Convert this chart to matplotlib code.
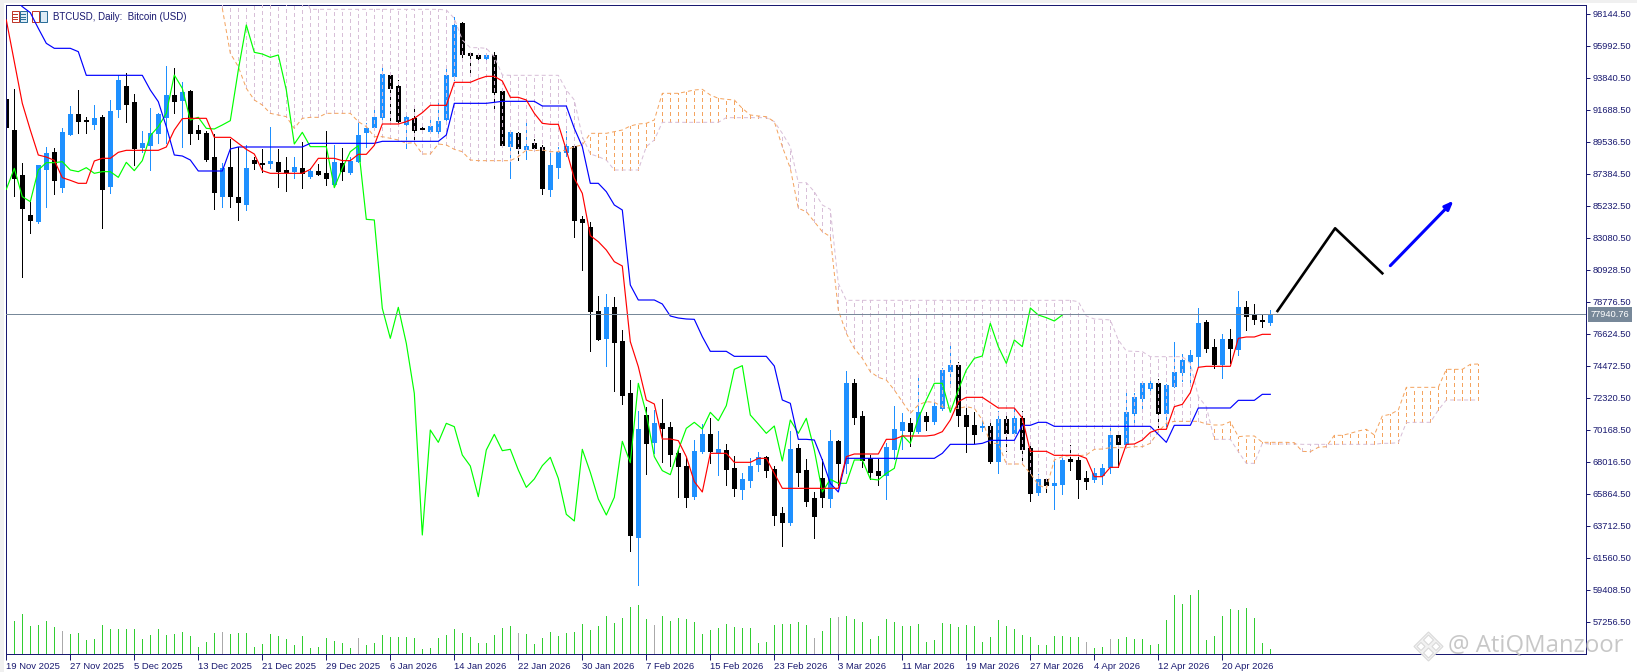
import numpy as np
import matplotlib
matplotlib.use('Agg')
import matplotlib.pyplot as plt
from matplotlib.patches import Rectangle, Polygon
from matplotlib.lines import Line2D

plt.rcParams['font.family'] = ['Liberation Sans', 'DejaVu Sans']

symbol_text = 'BTCUSD, Daily:  Bitcoin (USD)'
last_price = 77940.76

date_labels = ['19 Nov 2025', '27 Nov 2025', '5 Dec 2025', '13 Dec 2025', '21 Dec 2025',
               '29 Dec 2025', '6 Jan 2026', '14 Jan 2026', '22 Jan 2026', '30 Jan 2026',
               '7 Feb 2026', '15 Feb 2026', '23 Feb 2026', '3 Mar 2026', '11 Mar 2026',
               '19 Mar 2026', '27 Mar 2026', '4 Apr 2026', '12 Apr 2026', '20 Apr 2026']

price_ticks = [98144.5, 95992.5, 93840.5, 91688.5, 89536.5, 87384.5, 85232.5, 83080.5, 80928.5,
               78776.5, 76624.5, 74472.5, 72320.5, 70168.5, 68016.5, 65864.5, 63712.5, 61560.5,
               59408.5, 57256.5]

# daily candles
opens = [92428, 90343, 87317, 84627, 84224, 87721, 88864, 86532, 90074, 91419,
         91016, 90747, 91218, 86600, 91778, 93302, 92226, 89200, 89357, 90142,
         91240, 92697, 92361, 92966, 90343, 90142, 88528, 85927, 87855, 85838,
         85389, 88326, 88124, 88124, 88191, 87653, 87586, 87788, 87272, 87586,
         87452, 86689, 88124, 87519, 88259, 90209, 90545, 91240, 94042, 93302,
         90769, 91128, 90478, 90276, 90299, 91106, 93997, 97539, 95544, 95387,
         95185, 95387, 92944, 89290, 90142, 89088, 89469, 89178, 86398, 87877,
         88864, 89267, 84358, 83820, 78171, 76355, 78440, 76154, 72657, 62972,
         71177, 69361, 70617, 70370, 68622, 67747, 65730, 68756, 69899, 68689,
         68823, 67613, 66201, 66806, 67882, 68353, 67546, 64587, 63981, 68958,
         67478, 65595, 66940, 65595, 69429, 67949, 73329, 71110, 68285, 67411,
         67142, 68891, 70168, 70639, 70101, 71110, 70773, 71648, 74136, 74540,
         71177, 70505, 70348, 70437, 68084, 70908, 69967, 70975, 68958, 65999,
         66873, 66470, 66537, 68218, 68151, 66940, 66873, 67142, 67680, 69832,
         69227, 71312, 72320, 72993, 73329, 71312, 73127, 74069, 74809, 75145,
         77431, 75750, 74607, 76288, 75616, 78440, 77902, 77566, 77431]
highs = [92428, 93101, 88102, 85524, 87990, 89178, 89110, 90455, 91957, 93033,
         91240, 92025, 91352, 92361, 94020, 94154, 92764, 90299, 91845, 91464,
         94647, 94513, 93594, 93033, 90680, 90276, 90074, 88102, 89716, 89223,
         89335, 88550, 89043, 90545, 89043, 88550, 88528, 89514, 87765, 88057,
         90276, 89335, 89110, 88550, 90881, 90792, 91756, 94670, 94221, 93706,
         91352, 91756, 90680, 91083, 92182, 94491, 97965, 97606, 95567, 95544,
         95499, 95567, 92988, 90231, 90209, 90971, 89716, 89312, 88774, 89223,
         90276, 89335, 84560, 84156, 79180, 79315, 79113, 76893, 73531, 71446,
         71738, 71513, 72253, 70706, 68823, 68263, 69496, 70572, 70975, 70101,
         69227, 68397, 67277, 68285, 68689, 68420, 67747, 64990, 70101, 69227,
         68218, 65999, 68218, 70168, 69496, 74136, 73598, 71446, 68487, 68218,
         69272, 71782, 71312, 70975, 73934, 71379, 72051, 74338, 75952, 74741,
         71648, 71379, 71020, 70841, 71446, 71379, 71850, 71446, 69160, 67209,
         66873, 68151, 68285, 69160, 68599, 67411, 67613, 67882, 70393, 69832,
         72858, 72634, 73329, 73665, 73598, 73262, 76086, 75279, 75548, 78373,
         77566, 76288, 76624, 76961, 79516, 78844, 78642, 77902, 78238]
lows = [90568, 85927, 80480, 83394, 84111, 85187, 86062, 86196, 90007, 90164,
        90164, 90411, 83775, 86129, 91195, 90904, 87990, 88886, 87676, 89447,
        89447, 91509, 89223, 89424, 89761, 88281, 85053, 85187, 85187, 84313,
        84986, 87743, 87541, 87810, 86532, 86263, 87138, 86465, 87138, 87317,
        86667, 86577, 86981, 87362, 88169, 89200, 90411, 91061, 91016, 90680,
        89155, 89559, 90231, 90209, 89940, 90836, 93706, 95096, 94154, 94872,
        94872, 91800, 89267, 87138, 88326, 88393, 89110, 86039, 85905, 87138,
        88595, 83148, 80928, 75504, 76221, 74472, 72791, 71917, 62031, 59750,
        67209, 68644, 68039, 67747, 65685, 64990, 65528, 68622, 67971, 67142,
        66470, 65730, 65528, 66335, 67411, 67008, 63780, 62367, 63780, 66402,
        65057, 62905, 64990, 64990, 66470, 67277, 70572, 67680, 66873, 66470,
        65528, 68218, 68891, 69092, 69967, 70168, 70572, 71513, 73262, 70437,
        68689, 69294, 70124, 67949, 67277, 68756, 69944, 67927, 65394, 65797,
        65999, 64856, 65887, 67478, 65595, 66201, 66671, 66537, 67277, 67702,
        69137, 70437, 71513, 72634, 70393, 70437, 73083, 73464, 73195, 74428,
        75414, 74338, 73665, 74652, 75212, 76893, 77297, 77095, 77230]
closes = [90568, 87138, 85120, 84291, 87990, 88774, 86981, 90209, 91419, 90971,
          90949, 91150, 86398, 91621, 93706, 92114, 89155, 89469, 90142, 91419,
          92697, 92316, 92899, 90164, 90142, 88416, 86196, 87810, 85927, 85524,
          87788, 88146, 88079, 88259, 87608, 87541, 87855, 87429, 87608, 87384,
          87138, 88214, 87608, 88236, 90007, 90478, 91218, 94109, 93190, 90971,
          91218, 90366, 90433, 90612, 90949, 94042, 97405, 95477, 95410, 95185,
          95387, 92921, 89335, 90209, 89155, 89267, 89155, 86443, 87990, 88864,
          89267, 84313, 84179, 78194, 76288, 78440, 76086, 72522, 63107, 70236,
          69294, 70639, 70303, 68554, 67747, 65685, 68756, 69899, 68756, 68891,
          67546, 66290, 66873, 67747, 68353, 67478, 64452, 63981, 68891, 67344,
          65394, 64385, 65663, 69429, 67949, 73329, 71043, 68151, 67344, 67142,
          69025, 70236, 70706, 70101, 71379, 70773, 71782, 74203, 74540, 71177,
          70437, 69899, 70437, 68084, 70908, 69967, 70975, 68891, 65932, 66873,
          66470, 66604, 68151, 68084, 66873, 66739, 67277, 67613, 69832, 69227,
          71379, 72388, 73329, 73329, 71312, 73195, 74069, 74876, 75212, 77364,
          75683, 74607, 76288, 75683, 78440, 77835, 77633, 77476, 77941]

# tick volume (arbitrary units), gray bars listed apart
volumes = [0, 99, 120, 84, 87, 99, 81, 69, 60, 63,
           42, 45, 87, 75, 75, 75, 75, 45, 57, 75,
           57, 60, 66, 54, 21, 36, 63, 66, 60, 63,
           63, 21, 30, 60, 54, 45, 27, 54, 18, 21,
           48, 39, 33, 18, 48, 27, 33, 57, 51, 51,
           51, 48, 15, 18, 48, 57, 75, 63, 51, 33,
           33, 57, 78, 84, 63, 60, 30, 48, 66, 54,
           63, 66, 90, 72, 84, 114, 93, 108, 141, 147,
           105, 87, 114, 99, 108, 105, 96, 60, 72, 78,
           90, 81, 78, 78, 33, 36, 87, 90, 90, 96,
           87, 48, 69, 108, 111, 114, 105, 96, 45, 54,
           105, 96, 84, 84, 90, 36, 42, 93, 90, 81,
           87, 84, 36, 51, 102, 84, 75, 57, 51, 27,
           27, 54, 54, 51, 51, 36, 18, 21, 45, 45,
           51, 45, 45, 27, 30, 102, 177, 150, 177, 192,
           42, 54, 114, 135, 132, 138, 108, 33, 15]
gray_volume_days = [7, 27, 44, 64, 81, 101, 104, 135, 138]

# ichimoku lines
tenkan = [97741, 94939, 92137, 90343, 88662, 88527, 88303, 87138, 86958, 86757,
          86757, 88259, 88438, 88438, 88841, 88976, 88976, 88976, 88976, 88976,
          89200, 90343, 91106, 91128, 91128, 91128, 89850, 89850, 89850, 89447,
          89043, 88729, 87608, 87429, 87429, 87429, 87429, 87429, 87698, 88438,
          88438, 88438, 88281, 88281, 88707, 88707, 89312, 90747, 90747, 90747,
          90904, 91128, 91509, 92002, 92002, 92002, 93549, 93549, 93549, 93773,
          93952, 93952, 93639, 92540, 92540, 92361, 91464, 90792, 90725, 90725,
          88998, 87093, 86084, 83237, 82834, 82273, 81488, 81197, 76109, 74428,
          72186, 71917, 69563, 69563, 69451, 68375, 66694, 65999, 68599, 68599,
          68599, 67994, 67994, 67994, 68263, 68263, 67254, 66245, 66245, 66245,
          66245, 66245, 66245, 66245, 66245, 68375, 68554, 68554, 68554, 68554,
          69541, 69541, 69765, 69765, 69765, 69765, 69832, 70056, 70841, 72074,
          72365, 72365, 72365, 72007, 71648, 71648, 71648, 70975, 68734, 68734,
          68734, 68465, 68465, 68465, 68465, 68263, 67030, 67030, 67658, 67658,
          69204, 69227, 69496, 70011, 70213, 70213, 71737, 71894, 72679, 74383,
          74450, 74450, 74450, 74450, 76333, 76423, 76423, 76602, 76602]
kijun = [99758, 99198, 98638, 98234, 97181, 96172, 95836, 95836, 95836, 95611,
         94020, 94020, 94020, 94020, 94020, 94020, 94020, 94020, 93033, 92249,
         90568, 88662, 88595, 88326, 87586, 87586, 87586, 87586, 89066, 89200,
         89200, 89200, 89200, 89200, 89200, 89200, 89200, 89200, 89447, 89447,
         89447, 89447, 89447, 89447, 89447, 89447, 89447, 89581, 89581, 89581,
         89581, 89581, 89581, 89581, 89581, 90007, 92137, 92137, 92137, 92137,
         92137, 92204, 92271, 92271, 92271, 92271, 92271, 91957, 91957, 91957,
         91957, 90455, 89223, 86757, 86757, 86196, 85300, 84963, 79920, 78911,
         78911, 78911, 78642, 77835, 77700, 77633, 77611, 76445, 75459, 75459,
         75459, 75122, 75122, 75122, 75122, 75122, 74472, 72186, 71962, 69541,
         69541, 69496, 68151, 66582, 65999, 68263, 68263, 68263, 68263, 68263,
         68263, 68263, 68263, 68263, 68263, 68263, 68263, 68599, 69204, 69204,
         69204, 69204, 69272, 69473, 69473, 69473, 69473, 70482, 70482, 70684,
         70684, 70415, 70415, 70415, 70415, 70415, 70415, 70415, 70415, 70415,
         70415, 70415, 70415, 70415, 69877, 69339, 70482, 70482, 70482, 71648,
         71648, 71648, 71648, 71648, 72163, 72163, 72163, 72567, 72567]
chikou = [86353, 87765, 85860, 85524, 87653, 88146, 88146, 88214, 87653, 87541,
          87810, 87429, 87541, 87541, 87160, 88169, 87608, 88281, 89962, 90568,
          91464, 94042, 93146, 91016, 91195, 90455, 90411, 90680, 90971, 94378,
          97405, 95567, 95454, 95230, 95387, 93033, 89402, 90186, 89223, 89223,
          89223, 86465, 87765, 88886, 89290, 84336, 84291, 78351, 76333, 78418,
          75997, 72634, 63107, 70168, 69339, 70617, 70392, 68487, 67747, 65685,
          68823, 69877, 68778, 68868, 67478, 66312, 66873, 67769, 68330, 66918,
          64497, 64048, 68868, 67321, 65528, 64452, 65640, 69406, 67971, 73307,
          71289, 68375, 67434, 67164, 68823, 70280, 70684, 70236, 71356, 70796,
          71805, 74248, 74495, 71177, 70572, 69944, 70437, 68084, 70841, 69944,
          70953, 68823, 65999, 66850, 66582, 66582, 68151, 68151, 66873, 66806,
          67254, 67590, 69832, 69272, 70953, 72186, 73307, 73307, 71356, 72858,
          74203, 74988, 75145, 77342, 75773, 74652, 76221, 75773, 78373, 77902,
          77723, 77499, 77902]

# cloud, first value belongs to day 27
cloud_start = 27
senkou_a = [98526, 95499, 94603,
            93146, 92361, 92025, 91464, 91352, 91240, 90455, 91128, 91195, 91195,
            91464, 91464, 91464, 91464, 90904, 90568, 89895, 89895, 89783, 89671,
            89447, 89492, 88729, 88729, 89402, 89335, 89043, 88886, 88326, 88281,
            88281, 88281, 88281, 88281, 88550, 88998, 88953, 88998, 88886, 88886,
            88998, 89223, 89335, 90119, 90119, 90119, 90231, 90343, 90612, 90747,
            90792, 91016, 92809, 92809, 92809, 92921, 93033, 93078, 92697, 92473,
            92406, 92361, 91800, 91352, 91285, 91240, 90904, 89223, 87765, 85075,
            84851, 84179, 83506, 83170, 78238, 76669, 75660, 74988, 74091, 73710,
            73531, 72858, 72074, 71289, 71850, 72074, 72029, 71737, 71625, 71625,
            71737, 71625, 70841, 69272, 69272, 67882, 67882, 67882, 67254, 66470,
            66245, 68151, 68375, 68442, 68442, 68487, 68868, 68890, 68980, 68980,
            68980, 69047, 69047, 69272, 70056, 70617, 70751, 70751, 70751, 70751,
            70572, 70505, 70505, 70729, 69720, 69765, 69765, 69339, 69339, 69339,
            69339, 69316, 68730, 68711, 69003, 69047, 69809, 69809, 69944, 70101,
            70213, 69832, 71110, 71222, 71513, 73037, 73037, 73037, 73037, 73037,
            74248, 74248, 74248, 74585, 74607]
senkou_b = [99700, 99700, 99700,
            99700, 99700, 99700, 99700, 99700, 99700, 99700, 99700, 98458, 98458,
            98458, 98458, 98458, 98458, 98458, 98458, 98458, 98458, 98458, 98458,
            98458, 98458, 98458, 98458, 98458, 98413, 97853, 96396, 95880, 95880,
            95835, 95275, 94042, 94020, 94020, 94020, 94020, 94020, 94020, 94020,
            93033, 92361, 89895, 88729, 88550, 88326, 87653, 87653, 87653, 87653,
            89222, 89671, 90859, 90859, 90859, 90859, 90859, 90859, 90859, 90859,
            91173, 91173, 91173, 91173, 91173, 91173, 90904, 90119, 89222, 86801,
            86801, 86196, 85300, 85008, 80032, 78888, 78888, 78888, 78888, 78888,
            78888, 78888, 78888, 78888, 78888, 78888, 78888, 78888, 78888, 78888,
            78888, 78888, 78888, 78888, 78888, 78888, 78888, 78888, 78888, 78888,
            78888, 78888, 78888, 78888, 78799, 77835, 77633, 77611, 77566, 76221,
            75481, 75459, 75436, 75100, 75100, 75100, 75100, 75100, 74652, 72410,
            71737, 69541, 69541, 69541, 68711, 67927, 67927, 69272, 69227, 69227,
            69227, 69227, 69204, 69204, 69204, 69204, 69204, 69204, 69204, 69204,
            69204, 69204, 69272, 69272, 69316, 70661, 70684, 70684, 70684, 71513,
            72186, 72186, 72186, 72186, 72186]

# hand drawn projection
zigzag_day = [158.9, 166.1, 172.0]
zigzag_price = [78171, 83733, 80706]
arrow_day = [173.0, 180.9]
arrow_price = [81218, 85589]

W, H = 1637, 672
NAVY = '#191970'
LINE = 0.72  # one pixel at dpi 100


def fx(px):
    return px / W


def fy(px):
    return 1 - px / H


fig = plt.figure(figsize=(W / 100, H / 100), dpi=100, facecolor='white')
ax = fig.add_axes([fx(6.3), fy(654), fx(1586 - 6.3), (654 - 5.3) / H], zorder=2)
ax_vol = fig.add_axes(ax.get_position(), sharex=ax, zorder=1)
ax_vol.axis('off')
ax.patch.set_alpha(0)

days = np.arange(len(closes))
o, h, l, c = map(np.array, (opens, highs, lows, closes))
up = c >= o
BLUE = '#1E90FF'
colors = np.where(up, BLUE, 'black')

# volume
vol_colors = ['#aaaaaa' if d in gray_volume_days else '#32CD32' for d in days]
ax_vol.vlines(days, 0, volumes, colors=vol_colors, linewidth=LINE, antialiased=False)
ax_vol.set_ylim(0, 1946)

# candles
ax.vlines(days, l, h, colors=colors, linewidth=LINE, antialiased=False, zorder=2)
ax.bar(days, np.abs(c - o), bottom=np.minimum(o, c), width=0.52, color=colors,
       edgecolor=colors, linewidth=LINE, antialiased=False, zorder=2)

# cloud
cloud_days = np.arange(cloud_start, cloud_start + len(senkou_a))
a = np.array(senkou_a)
b = np.array(senkou_b)
ORANGE = '#F4A460'
THISTLE = '#D8BFD8'
DASH = (0, (4, 3))
hatch = np.where(a > b, ORANGE, THISTLE)
ax.vlines(cloud_days, np.minimum(a, b), np.maximum(a, b), colors=hatch, linewidth=LINE,
          linestyles=DASH, antialiased=False, zorder=3)
ax.plot(cloud_days, b, color=THISTLE, linewidth=LINE, dashes=DASH[1], zorder=3)
ax.plot(cloud_days, a, color=ORANGE, linewidth=LINE, dashes=DASH[1], zorder=3)

# ichimoku lines
ax.plot(days[:len(chikou)], chikou, color='#00FF00', linewidth=0.85, zorder=4)
ax.plot(days, kijun, color='#0000FF', linewidth=0.85, zorder=4)
ax.plot(days, tenkan, color='#FF0000', linewidth=0.85, zorder=4)

# last price line
ax.axhline(last_price, color='#778899', linewidth=LINE, zorder=5)

# projection
ax.plot(zigzag_day, zigzag_price, color='black', linewidth=1.9, zorder=6)
ax.annotate('', xy=(arrow_day[1], arrow_price[1]), xytext=(arrow_day[0], arrow_price[0]),
            arrowprops=dict(arrowstyle='-|>,head_length=0.5,head_width=0.2', color='#0000FF',
                            linewidth=2.2, shrinkA=0, shrinkB=0), zorder=6)

# axes
ax.set_xlim(0, 197.46)
ax.set_ylim(55104, 98729)
for s in ax.spines.values():
    s.set_color(NAVY)
    s.set_linewidth(LINE)
ax.yaxis.tick_right()
ax.set_yticks(price_ticks)
ax.set_yticklabels([f'{v:.2f}' for v in price_ticks])
ax.set_xticks(np.arange(len(date_labels)) * 8)
ax.set_xticklabels(date_labels, ha='left')
ax.tick_params(axis='y', colors=NAVY, length=3, width=LINE, labelsize=6.7, pad=2)
ax.tick_params(axis='x', colors=NAVY, length=4, width=LINE, labelsize=6.8, pad=1.5)

# label of the last price
ax.text(1.003, last_price, f'{last_price:.2f}', transform=ax.get_yaxis_transform(), color='white',
        fontsize=6.7, va='center', ha='left', zorder=10, clip_on=False,
        bbox=dict(facecolor='#778899', edgecolor='none', pad=2))

# header
fig.text(fx(53), fy(16.5), symbol_text, color=NAVY, fontsize=7.0, va='center', ha='left', zorder=12)

# toolbar icons of the terminal
for x0 in (11.5, 32):
    fig.add_artist(Rectangle((fx(x0), fy(22)), 7 / W, 11 / H, transform=fig.transFigure,
                             facecolor='white', edgecolor='#C0392B', linewidth=LINE))
    fig.add_artist(Rectangle((fx(x0 + 8), fy(22)), 7 / W, 11 / H, transform=fig.transFigure,
                             facecolor='#DCEBF5', edgecolor='#2B6E99', linewidth=LINE))
for dy in (14, 16.5, 19):
    for x0, col in ((13, '#C0392B'), (21, '#2B6E99')):
        fig.add_artist(Line2D([fx(x0), fx(x0 + 4)], [fy(dy), fy(dy)], transform=fig.transFigure,
                              color=col, linewidth=LINE))

# grey window edge
fig.add_artist(Rectangle((0, fy(3)), 1, 3 / H, transform=fig.transFigure, facecolor='#F0F0F0',
                         edgecolor='none'))
fig.add_artist(Rectangle((0, 0), 4 / W, 1, transform=fig.transFigure, facecolor='#F0F0F0',
                         edgecolor='none'))

# watermark
fig.text(fx(1448), fy(646), '@ AtiQManzoor', color='#BEBEBE', alpha=0.85, fontsize=17.2, va='center',
         ha='left', family=['Open Sans', 'DejaVu Sans'], zorder=12)
for cx, cy, r, fc in ((1428.5, 646.5, 14.5, '#F1F1F1'), (1428.5, 640, 5, 'white'),
                      (1421, 646.5, 4, 'white'), (1436, 646.5, 4, 'white'), (1428.5, 653, 5, 'white')):
    fig.add_artist(Polygon([(fx(cx), fy(cy - r)), (fx(cx + r), fy(cy)), (fx(cx), fy(cy + r)), (fx(cx - r), fy(cy))],
                           transform=fig.transFigure, facecolor=fc, edgecolor='#DADADA', linewidth=0.8,
                           zorder=11))

fig.savefig('out.png', dpi=100)
